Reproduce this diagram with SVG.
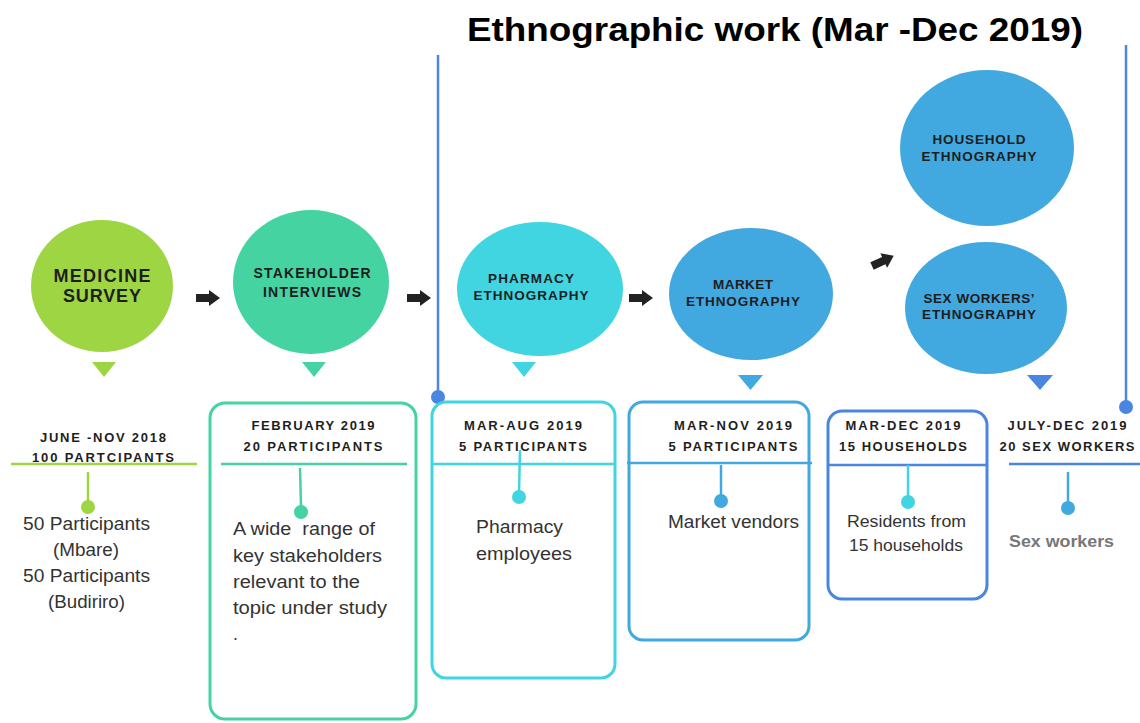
<svg xmlns="http://www.w3.org/2000/svg" width="1140" height="723" viewBox="0 0 1140 723">
<style>
  .cap { font-family: "Liberation Sans", Arial, sans-serif; font-weight: bold; fill: #1e1e1e; text-anchor: middle; }
  .hdr { font-family: "Liberation Sans", Arial, sans-serif; font-weight: bold; font-size: 13px; fill: #1e1e1e; text-anchor: middle; }
  .body { font-family: "Liberation Sans", Arial, sans-serif; font-size: 17.5px; fill: #333333; }
  .mid { text-anchor: middle; }
  .title { font-family: "Liberation Sans", Arial, sans-serif; font-weight: bold; font-size: 33px; fill: #000000; }
  .box { fill: none; stroke-width: 3; }
  .arrow { fill: #222222; }
</style>
<defs>
  <path id="blk" d="M0,-4 H13 V-8 L24,0 L13,8 V4 H0 Z"/>
</defs>
<rect width="1140" height="723" fill="#ffffff"/>

<text class="title" x="467" y="41" textLength="616" lengthAdjust="spacingAndGlyphs">Ethnographic work (Mar -Dec 2019)</text>

<g id="bracket">
  <line x1="438" y1="55" x2="438" y2="397" stroke="#4a86df" stroke-width="2.5"/>
  <circle cx="438" cy="397" r="7" fill="#4a86df"/>
  <line x1="1126" y1="45" x2="1126" y2="407" stroke="#4a86df" stroke-width="2.5"/>
  <circle cx="1126" cy="407" r="7" fill="#4a86df"/>
</g>

<g id="connectors">
  <use href="#blk" class="arrow" x="196" y="298"/>
  <use href="#blk" class="arrow" x="407" y="298"/>
  <use href="#blk" class="arrow" x="629" y="298"/>
  <use href="#blk" class="arrow" transform="translate(872,266) rotate(-25)"/>
</g>

<g id="medicine-survey">
  <ellipse cx="102" cy="286" rx="71" ry="66" fill="#9ed543"/>
  <text class="cap" font-size="18" x="102" y="282" textLength="97" lengthAdjust="spacing">MEDICINE</text>
  <text class="cap" font-size="18" x="102" y="302" textLength="78" lengthAdjust="spacing">SURVEY</text>
  <polygon points="92,362 116,362 104,377" fill="#9ed543"/>
</g>

<g id="stakeholder-interviews">
  <ellipse cx="311" cy="282" rx="78" ry="72" fill="#45d3a1"/>
  <text class="cap" font-size="14" x="312" y="278" textLength="117" lengthAdjust="spacing">STAKEHOLDER</text>
  <text class="cap" font-size="14" x="312" y="297" textLength="98" lengthAdjust="spacing">INTERVIEWS</text>
  <polygon points="302,362 326,362 314,377" fill="#45d3a1"/>
</g>

<g id="pharmacy-ethnography">
  <ellipse cx="540" cy="289" rx="83" ry="67" fill="#41d4e1"/>
  <text class="cap" font-size="13.5" x="531" y="283" textLength="86" lengthAdjust="spacing">PHARMACY</text>
  <text class="cap" font-size="13.5" x="531" y="300" textLength="115" lengthAdjust="spacing">ETHNOGRAPHY</text>
  <polygon points="512,362 536,362 524,377" fill="#41d4e1"/>
</g>

<g id="market-ethnography">
  <ellipse cx="751" cy="294" rx="82" ry="66" fill="#42a8e0"/>
  <text class="cap" font-size="13.5" x="743" y="289" textLength="60" lengthAdjust="spacing">MARKET</text>
  <text class="cap" font-size="13.5" x="743" y="306" textLength="114" lengthAdjust="spacing">ETHNOGRAPHY</text>
  <polygon points="738,375 763,375 750.5,390" fill="#42a8e0"/>
</g>

<g id="household-ethnography">
  <ellipse cx="987" cy="148" rx="87" ry="78" fill="#42a8e0"/>
  <text class="cap" font-size="13.5" x="979" y="144" textLength="93" lengthAdjust="spacing">HOUSEHOLD</text>
  <text class="cap" font-size="13.5" x="979" y="161" textLength="115" lengthAdjust="spacing">ETHNOGRAPHY</text>
</g>

<g id="sex-workers-ethnography">
  <ellipse cx="986" cy="308" rx="81" ry="66" fill="#42a8e0"/>
  <text class="cap" font-size="13.5" x="979" y="303" textLength="111" lengthAdjust="spacing">SEX WORKERS’</text>
  <text class="cap" font-size="13.5" x="979" y="319" textLength="114" lengthAdjust="spacing">ETHNOGRAPHY</text>
  <polygon points="1027,375 1053,375 1040,390" fill="#4a86df"/>
</g>

<g id="detail-survey">
  <text class="hdr" x="103" y="442" textLength="126" lengthAdjust="spacing">JUNE -NOV 2018</text>
  <text class="hdr" x="103" y="462" textLength="142" lengthAdjust="spacing">100 PARTCIPANTS</text>
  <line x1="11" y1="464" x2="197" y2="464" stroke="#9ed543" stroke-width="2.5"/>
  <line x1="88" y1="472" x2="88" y2="502" stroke="#9ed543" stroke-width="2.5"/>
  <circle cx="88" cy="507" r="7" fill="#9ed543"/>
  <text class="body" x="23" y="530" textLength="127" lengthAdjust="spacingAndGlyphs">50 Participants</text>
  <text class="body" x="53" y="556" textLength="66" lengthAdjust="spacingAndGlyphs">(Mbare)</text>
  <text class="body" x="23" y="582" textLength="127" lengthAdjust="spacingAndGlyphs">50 Participants</text>
  <text class="body" x="48" y="608" textLength="77" lengthAdjust="spacingAndGlyphs">(Budiriro)</text>
</g>

<g id="detail-stakeholders">
  <rect class="box" x="210" y="403" width="206" height="316" rx="15" stroke="#45d3a1" stroke-width="3.5"/>
  <text class="hdr" x="313" y="430" textLength="123" lengthAdjust="spacing">FEBRUARY 2019</text>
  <text class="hdr" x="313" y="451" textLength="139" lengthAdjust="spacing">20 PARTICIPANTS</text>
  <line x1="221" y1="464" x2="407" y2="464" stroke="#45d3a1" stroke-width="2.5"/>
  <line x1="300" y1="468" x2="301" y2="506" stroke="#45d3a1" stroke-width="2.5"/>
  <circle cx="301" cy="512" r="7" fill="#45d3a1"/>
  <text class="body" x="233" y="535" style="white-space:pre" textLength="142" lengthAdjust="spacingAndGlyphs">A wide  range of</text>
  <text class="body" x="233" y="562" textLength="149" lengthAdjust="spacingAndGlyphs">key stakeholders</text>
  <text class="body" x="233" y="588" textLength="127" lengthAdjust="spacingAndGlyphs">relevant to the</text>
  <text class="body" x="233" y="614" textLength="154" lengthAdjust="spacingAndGlyphs">topic under study</text>
  <text class="body" x="233" y="640">.</text>
</g>

<g id="detail-pharmacy">
  <rect class="box" x="432" y="402" width="183" height="276" rx="14" stroke="#41d4e1"/>
  <text class="hdr" x="523" y="430" textLength="118" lengthAdjust="spacing">MAR-AUG 2019</text>
  <text class="hdr" x="523" y="451" textLength="128" lengthAdjust="spacing">5 PARTICIPANTS</text>
  <line x1="432" y1="464" x2="615" y2="464" stroke="#41d4e1" stroke-width="2.5"/>
  <line x1="520" y1="450" x2="519" y2="492" stroke="#41d4e1" stroke-width="2.5"/>
  <circle cx="519" cy="497" r="7" fill="#41d4e1"/>
  <text class="body" x="476" y="533" textLength="87" lengthAdjust="spacingAndGlyphs">Pharmacy</text>
  <text class="body" x="476" y="560" textLength="96" lengthAdjust="spacingAndGlyphs">employees</text>
</g>

<g id="detail-market">
  <rect class="box" x="629" y="402" width="180" height="238" rx="14" stroke="#42a8e0"/>
  <text class="hdr" x="733" y="430" textLength="118" lengthAdjust="spacing">MAR-NOV 2019</text>
  <text class="hdr" x="733" y="451" textLength="129" lengthAdjust="spacing">5 PARTICIPANTS</text>
  <line x1="627" y1="463" x2="812" y2="463" stroke="#42a8e0" stroke-width="2.5"/>
  <line x1="721" y1="465" x2="721" y2="496" stroke="#42a8e0" stroke-width="2.5"/>
  <circle cx="721" cy="501" r="7" fill="#42a8e0"/>
  <text class="body" x="668" y="528" textLength="131" lengthAdjust="spacingAndGlyphs">Market vendors</text>
</g>

<g id="detail-household">
  <rect class="box" x="828" y="411" width="159" height="188" rx="14" stroke="#4a86df"/>
  <text class="hdr" x="903" y="430" textLength="115" lengthAdjust="spacing">MAR-DEC 2019</text>
  <text class="hdr" x="903" y="451" textLength="128" lengthAdjust="spacing">15 HOUSEHOLDS</text>
  <line x1="828" y1="465" x2="987" y2="465" stroke="#4a86df" stroke-width="2.5"/>
  <line x1="908" y1="465" x2="908" y2="497" stroke="#41d4e1" stroke-width="2.5"/>
  <circle cx="908" cy="502" r="7" fill="#41d4e1"/>
  <text class="body" x="847" y="527" style="font-size:16px" textLength="119" lengthAdjust="spacingAndGlyphs">Residents from</text>
  <text class="body" x="849" y="551" style="font-size:16px" textLength="114" lengthAdjust="spacingAndGlyphs">15 households</text>
</g>

<g id="detail-sex-workers">
  <text class="hdr" x="1067" y="430" textLength="119" lengthAdjust="spacing">JULY-DEC 2019</text>
  <text class="hdr" x="1067" y="451" textLength="135" lengthAdjust="spacing">20 SEX WORKERS</text>
  <line x1="1009" y1="464" x2="1140" y2="464" stroke="#4a86df" stroke-width="2.5"/>
  <line x1="1068" y1="472" x2="1068" y2="503" stroke="#42a8e0" stroke-width="2.5"/>
  <circle cx="1068" cy="508" r="7" fill="#42a8e0"/>
  <text class="body" x="1009" y="547" style="font-size:16px;font-weight:bold;fill:#777777" textLength="105" lengthAdjust="spacingAndGlyphs">Sex workers</text>
</g>
</svg>
